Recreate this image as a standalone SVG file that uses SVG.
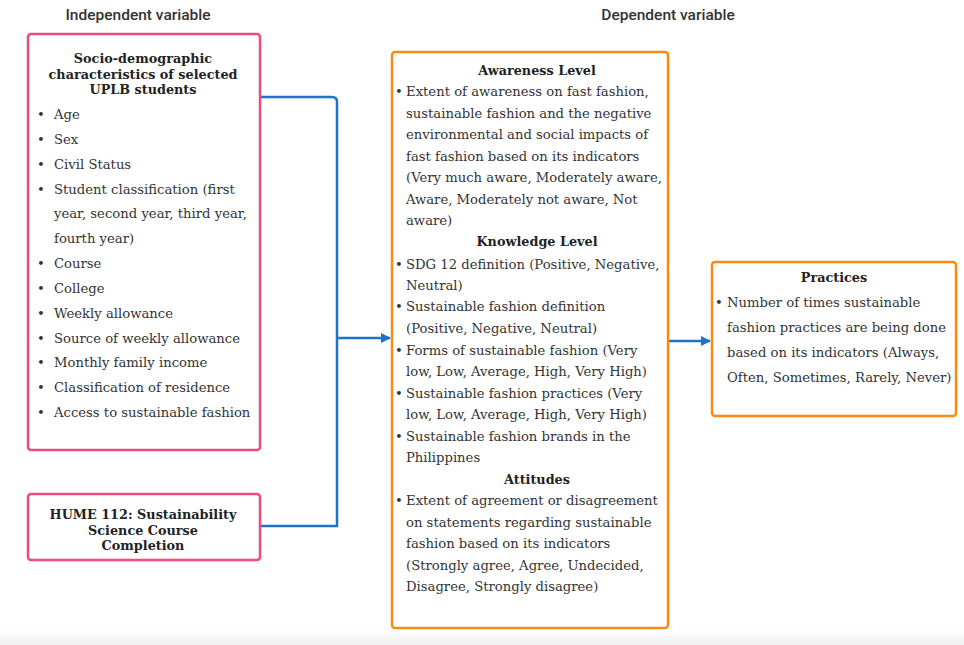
<svg xmlns="http://www.w3.org/2000/svg" width="964" height="645" viewBox="0 0 964 645">
<defs>
<linearGradient id="bot" x1="0" y1="0" x2="0" y2="1"><stop offset="0" stop-color="#ffffff"/><stop offset="1" stop-color="#efefef"/></linearGradient>
<marker id="ah" viewBox="0 0 10 10" refX="9" refY="5" markerWidth="10" markerHeight="10" markerUnits="userSpaceOnUse" orient="auto"><path d="M0,0 L10,5 L0,10 z" fill="#1b74c9"/></marker>
</defs>
<style>
.hd{font-family:Roboto,"Liberation Sans",sans-serif;font-weight:500;font-size:15.5px;fill:#333;text-anchor:middle}
.pk{fill:#fff;stroke:#ee4a7c;stroke-width:2.5}
.or{fill:#fff;stroke:#f98b12;stroke-width:2.5}
.t{font-family:"DejaVu Serif","Liberation Serif",serif;font-size:13.2px;fill:#333}
.b{font-family:"DejaVu Serif","Liberation Serif",serif;font-size:12.8px;font-weight:bold;fill:#222;text-anchor:middle}
.c{fill:none;stroke:#1b74c9;stroke-width:2.5}
</style>
<rect x="0" y="630" width="964" height="15" fill="url(#bot)"/>
<text class="hd" x="138" y="20">Independent variable</text>
<text class="hd" x="668" y="20">Dependent variable</text>
<g id="connectors">
<path class="c" d="M260,97 H332 Q337,97 337,102 V526 H260"/>
<path class="c" d="M337,338 H390" marker-end="url(#ah)"/>
<path class="c" d="M668,341 H710" marker-end="url(#ah)"/>
</g>
<g id="socio">
<rect class="pk" x="28" y="34" width="232" height="416" rx="3"/>
<text class="b" x="143" y="63">Socio-demographic</text>
<text class="b" x="143" y="79">characteristics of selected</text>
<text class="b" x="143" y="94">UPLB students</text>
<g class="t">
<text x="37" y="119">•</text><text x="54" y="119">Age</text>
<text x="37" y="144">•</text><text x="54" y="144">Sex</text>
<text x="37" y="169">•</text><text x="54" y="169">Civil Status</text>
<text x="37" y="194">•</text><text x="54" y="194">Student classification (first</text>
<text x="54" y="218">year, second year, third year,</text>
<text x="54" y="243">fourth year)</text>
<text x="37" y="268">•</text><text x="54" y="268">Course</text>
<text x="37" y="293">•</text><text x="54" y="293">College</text>
<text x="37" y="318">•</text><text x="54" y="318">Weekly allowance</text>
<text x="37" y="343">•</text><text x="54" y="343">Source of weekly allowance</text>
<text x="37" y="367">•</text><text x="54" y="367">Monthly family income</text>
<text x="37" y="392">•</text><text x="54" y="392">Classification of residence</text>
<text x="37" y="417">•</text><text x="54" y="417">Access to sustainable fashion</text>
</g>
</g>
<g id="hume">
<rect class="pk" x="28" y="494" width="232" height="66" rx="3"/>
<text class="b" x="143" y="519">HUME 112: Sustainability</text>
<text class="b" x="143" y="535">Science Course</text>
<text class="b" x="143" y="550">Completion</text>
</g>
<g id="dependent">
<rect class="or" x="392" y="52" width="276" height="576" rx="3"/>
<text class="b" x="537" y="75">Awareness Level</text>
<g class="t">
<text x="395" y="96">•</text><text x="406" y="96">Extent of awareness on fast fashion,</text>
<text x="406" y="118">sustainable fashion and the negative</text>
<text x="406" y="139">environmental and social impacts of</text>
<text x="406" y="161">fast fashion based on its indicators</text>
<text x="406" y="182">(Very much aware, Moderately aware,</text>
<text x="406" y="204">Aware, Moderately not aware, Not</text>
<text x="406" y="225">aware)</text>
</g>
<text class="b" x="537" y="246">Knowledge Level</text>
<g class="t">
<text x="395" y="269">•</text><text x="406" y="269">SDG 12 definition (Positive, Negative,</text>
<text x="406" y="290">Neutral)</text>
<text x="395" y="311">•</text><text x="406" y="311">Sustainable fashion definition</text>
<text x="406" y="333">(Positive, Negative, Neutral)</text>
<text x="395" y="355">•</text><text x="406" y="355">Forms of sustainable fashion (Very</text>
<text x="406" y="376">low, Low, Average, High, Very High)</text>
<text x="395" y="398">•</text><text x="406" y="398">Sustainable fashion practices (Very</text>
<text x="406" y="419">low, Low, Average, High, Very High)</text>
<text x="395" y="441">•</text><text x="406" y="441">Sustainable fashion brands in the</text>
<text x="406" y="462">Philippines</text>
</g>
<text class="b" x="537" y="484">Attitudes</text>
<g class="t">
<text x="395" y="505">•</text><text x="406" y="505">Extent of agreement or disagreement</text>
<text x="406" y="527">on statements regarding sustainable</text>
<text x="406" y="548">fashion based on its indicators</text>
<text x="406" y="570">(Strongly agree, Agree, Undecided,</text>
<text x="406" y="591">Disagree, Strongly disagree)</text>
</g>
</g>
<g id="practices">
<rect class="or" x="712" y="262" width="244" height="154" rx="3"/>
<text class="b" x="834" y="282">Practices</text>
<g class="t">
<text x="715" y="307">•</text><text x="727" y="307">Number of times sustainable</text>
<text x="727" y="332">fashion practices are being done</text>
<text x="727" y="357">based on its indicators (Always,</text>
<text x="727" y="382">Often, Sometimes, Rarely, Never)</text>
</g>
</g>
</svg>
